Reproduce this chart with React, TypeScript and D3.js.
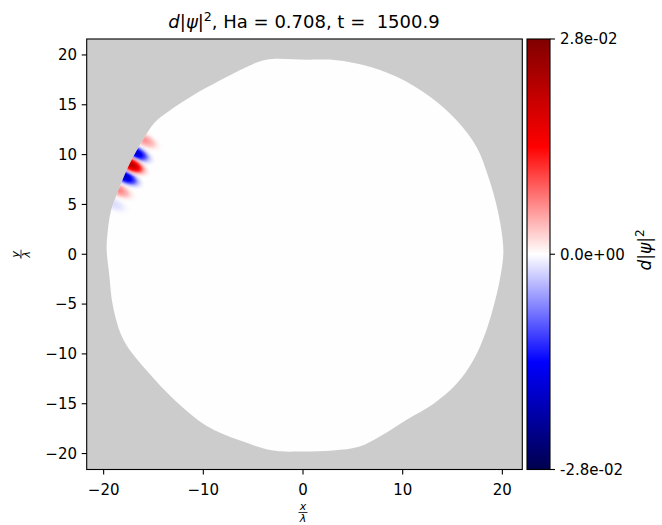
import React from "react";
import * as d3 from "d3";

// Boundary of the domain (data units, x/λ and y/λ)
const boundaryX = [-3.7, 0.3, 3.38, 6.06, 9.4, 12.75, 15.4, 17.4, 18.6, 19.6, 20.1, 19.8, 19.1, 18.3, 17.1, 15.4, 13.1, 10.4, 7.7, 5.7, 3.0, -0.3, -2.98, -6.3, -9.7, -12.7, -15.7, -18.0, -19.05, -19.45, -19.7, -19.6, -19.3, -18.6, -17.8, -16.8, -15.8, -14.9, -13.4, -11.1, -8.4, -5.7];
const boundaryY = [19.53, 19.53, 19.48, 18.98, 17.8, 15.8, 13.45, 10.8, 7.76, 4.08, 0.4, -2.25, -5.3, -7.9, -10.6, -13.0, -15.0, -16.6, -18.3, -19.3, -19.7, -19.8, -19.7, -18.7, -17.2, -14.8, -11.65, -8.6, -5.3, -1.94, 0.5, 2.2, 4.2, 6.2, 8.2, 10.2, 11.9, 13.2, 14.4, 15.9, 17.4, 18.77];

// Localised perturbation lobes (centre and value of d|psi|^2)
const blobX = [-16.0, -16.8, -17.3, -17.9, -18.6, -19.1];
const blobY = [11.5, 10.2, 9.0, 7.8, 6.5, 5.1];
const blobValue = [0.006, -0.018, 0.022, -0.019, 0.007, -0.002];

const xTicks = [-20, -10, 0, 10, 20];
const yTicks = [-20, -15, -10, -5, 0, 5, 10, 15, 20];
const vmax = 0.028;
const cbTicks = [-0.028, 0, 0.028];
const cbTickLabels = ["-2.8e-02", "0.0e+00", "2.8e-02"];

const W = 662;
const H = 525;
const L = 86.7, R = 522.3, T = 39, B = 469.5;
const CBL = 527, CBR = 550;
const FONT = "DejaVu Sans, sans-serif";

const fmtTick = (v: number) => (v < 0 ? "\u2212" + Math.abs(v) : String(v));

export default function App() {
  const x = d3.scaleLinear().domain([-21.7, 22.0]).range([L, R]);
  const y = d3.scaleLinear().domain([-21.6, 21.6]).range([B, T]);
  const cy = d3.scaleLinear().domain([-vmax, vmax]).range([B, T]);
  const color = d3
    .scaleLinear<string>()
    .domain([-vmax, -vmax / 2, 0, vmax / 2, vmax])
    .range(["#00004d", "#0000ff", "#ffffff", "#ff0000", "#800000"])
    .clamp(true);

  const pts: [number, number][] = boundaryX.map((bx, i) => [bx, boundaryY[i]]);
  const line = d3
    .line<[number, number]>()
    .x((d) => x(d[0]))
    .y((d) => y(d[1]))
    .curve(d3.curveCatmullRomClosed.alpha(0.5));
  const shapePath = line(pts) || "";

  const offsets = d3.range(0, 11).map((k) => k / 10);
  const cbStops = d3.range(0, 41).map((k) => k / 40);

  const order = d3.range(blobValue.length).sort((a, b) => Math.abs(blobValue[a]) - Math.abs(blobValue[b]));
  const angle = 27;

  return (
    <svg width={W} height={H} style={{ position: "absolute", left: 0, top: 0, background: "#fff" }} fontFamily={FONT}>
      <defs>
        <clipPath id="shapeClip">
          <path d={shapePath} />
        </clipPath>
        {blobValue.map((v, i) => (
          <radialGradient id={`blob${i}`} key={i} cx="0.5" cy="0.5" r="0.5">
            {offsets.map((o) => {
              const g = Math.exp(-3 * o * o);
              const op = o < 0.5 ? 1 : Math.max(0, (1 - o) / 0.5);
              return <stop key={o} offset={o} stopColor={color(v * g)} stopOpacity={op} />;
            })}
          </radialGradient>
        ))}
        <linearGradient id="cbGrad" x1="0" y1="1" x2="0" y2="0">
          {cbStops.map((s) => (
            <stop key={s} offset={s} stopColor={color(-vmax + 2 * vmax * s)} />
          ))}
        </linearGradient>
      </defs>

      {/* plot background */}
      <rect x={L} y={T} width={R - L} height={B - T} fill="#cccccc" />
      <path d={shapePath} fill="#fefefe" />
      <g clipPath="url(#shapeClip)">
        {order.map((i) => {
          const cx = x(blobX[i]);
          const cyy = y(blobY[i]);
          return (
            <ellipse
              key={i}
              cx={cx}
              cy={cyy}
              rx={23}
              ry={10}
              fill={`url(#blob${i})`}
              transform={`rotate(${angle} ${cx} ${cyy})`}
            />
          );
        })}
      </g>
      <rect x={L} y={T} width={R - L} height={B - T} fill="none" stroke="#000" strokeWidth={1.1} />

      {/* x axis */}
      {xTicks.map((t) => (
        <g key={`xt${t}`}>
          <line x1={x(t)} x2={x(t)} y1={B} y2={B + 5} stroke="#000" strokeWidth={1.1} />
          <text x={x(t)} y={495} textAnchor="middle" fontSize={15} fill="#000">
            {fmtTick(t)}
          </text>
        </g>
      ))}
      {/* y axis */}
      {yTicks.map((t) => (
        <g key={`yt${t}`}>
          <line x1={L - 5} x2={L} y1={y(t)} y2={y(t)} stroke="#000" strokeWidth={1.1} />
          <text x={77} y={y(t) + 5.4} textAnchor="end" fontSize={15} fill="#000">
            {fmtTick(t)}
          </text>
        </g>
      ))}

      {/* x label: x / lambda */}
      <g transform={`translate(${x(0)},512.5)`}>
        <text x={0} y={-2.5} textAnchor="middle" fontSize={11} fontStyle="italic">x</text>
        <line x1={-4.5} x2={4.5} y1={0} y2={0} stroke="#000" strokeWidth={0.8} />
        <text x={0} y={9} textAnchor="middle" fontSize={11} fontStyle="italic">λ</text>
      </g>
      {/* y label: y / lambda */}
      <g transform={`translate(21,${y(0)}) rotate(-90)`}>
        <text x={0} y={-2.5} textAnchor="middle" fontSize={11} fontStyle="italic">y</text>
        <line x1={-4.5} x2={4.5} y1={0} y2={0} stroke="#000" strokeWidth={0.8} />
        <text x={0} y={9} textAnchor="middle" fontSize={11} fontStyle="italic">λ</text>
      </g>

      {/* title */}
      <text x={304} y={28} textAnchor="middle" fontSize={18} fill="#000" style={{ whiteSpace: "pre" }}>
        <tspan fontStyle="italic">d</tspan>
        <tspan>|</tspan>
        <tspan fontStyle="italic">ψ</tspan>
        <tspan>|</tspan>
        <tspan dy={-7} fontSize={12.6}>2</tspan>
        <tspan dy={7}>{", Ha = 0.708, t =  1500.9"}</tspan>
      </text>

      {/* colorbar */}
      <rect x={CBL} y={T} width={CBR - CBL} height={B - T} fill="url(#cbGrad)" stroke="#000" strokeWidth={1.1} />
      {cbTicks.map((t, i) => (
        <g key={`cb${i}`}>
          <line x1={CBR} x2={CBR + 5} y1={cy(t)} y2={cy(t)} stroke="#000" strokeWidth={1.1} />
          <text x={560} y={cy(t) + 5.4} fontSize={15} fill="#000">
            {cbTickLabels[i]}
          </text>
        </g>
      ))}
      <text transform={`translate(651,250) rotate(-90)`} textAnchor="middle" fontSize={17} fill="#000">
        <tspan fontStyle="italic">d</tspan>
        <tspan>|</tspan>
        <tspan fontStyle="italic">ψ</tspan>
        <tspan>|</tspan>
        <tspan dy={-7} fontSize={12}>2</tspan>
      </text>
    </svg>
  );
}
